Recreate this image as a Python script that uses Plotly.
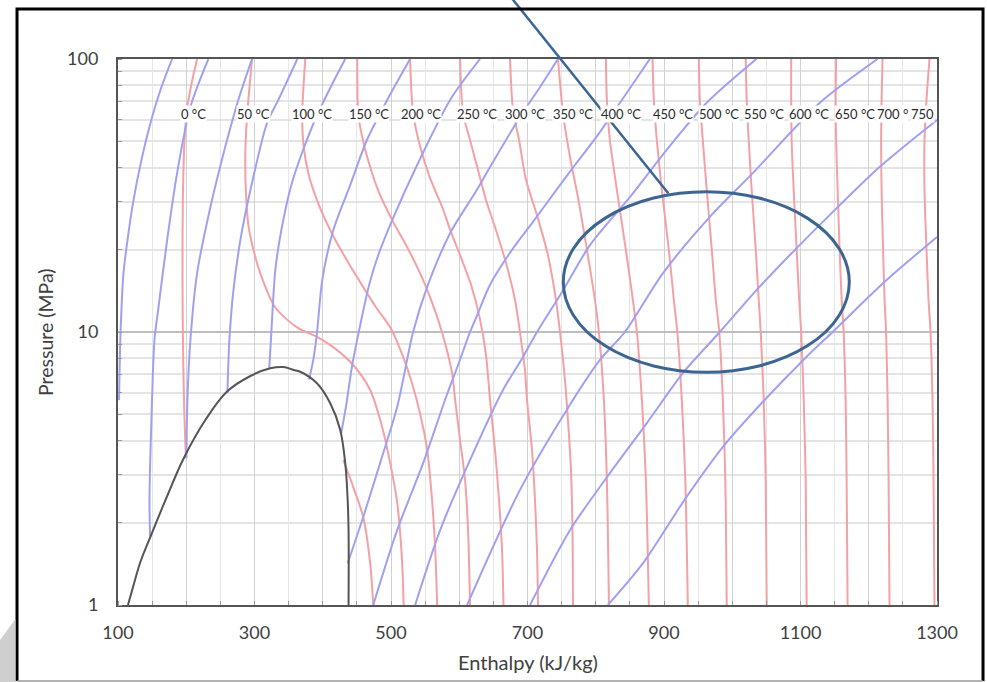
import math
import plotly.graph_objects as go

# ---------------- data ----------------
# Isotherms: enthalpy h [kJ/kg] and pressure P [MPa]
t0_liq_h = [216, 209, 202, 197.5, 195, 194.5, 195.5, 197.5, 199.5]
t0_liq_p = [100, 84, 68, 50.5, 30.4, 15.5, 7.9, 4.76, 3.45]
t0_vap_h = [430, 444.6, 459.3, 469.5, 474]
t0_vap_p = [3.40, 2.71, 2.10, 1.42, 1.0]
t50_h = [296.4, 289.5, 286.6, 287.3, 291, 296.8, 308.5, 330.5, 362.2, 391.5, 415.4, 444.6, 469.5, 487, 498.8, 508.6, 515.9, 518.5]
t50_p = [100, 63.4, 46.4, 33.1, 24.7, 20.8, 16.4, 12.3, 10.4, 9.6, 8.8, 7.57, 6.13, 4.49, 3.31, 2.42, 1.50, 1.0]
t100_h = [374.4, 370, 371.5, 378.8, 391.5, 411, 435.4, 459.3, 478.3, 498.8, 517.8, 532.4, 541.3, 552.5, 559.8, 564.6, 567.6]
t100_p = [100, 63.4, 49.2, 38.2, 30.4, 23.6, 18.3, 14.6, 12.3, 10.4, 8.1, 6.29, 5.18, 3.79, 2.49, 1.63, 1.0]
t150_h = [450.5, 452, 457.8, 469.5, 482.7, 501.7, 522.2, 542.7, 557.3, 569, 580.8, 589.5, 594, 601.2, 608.5, 612.9, 615.8]
t150_p = [100, 63.4, 51.8, 40.2, 32.3, 25.7, 20.8, 16.4, 13.4, 11.1, 8.8, 7.07, 5.63, 4.02, 2.87, 1.88, 1.0]
t200_h = [528, 532.4, 544.1, 557.3, 574.9, 588, 604.1, 617.3, 630.5, 639.3, 645.1, 652.4, 658.3, 662.7, 664.8]
t200_p = [100, 63.4, 46.4, 36.6, 28.7, 23.2, 18.3, 14.9, 11.1, 8.2, 5.63, 3.70, 2.42, 1.59, 1.0]
t250_h = [601.2, 605.6, 615.8, 627.5, 639.3, 653.9, 668.5, 681.7, 690.5, 696.3, 699.3, 706.6, 711, 713.9, 715.4]
t250_p = [100, 63.4, 50.5, 39.2, 30.4, 23.6, 17.9, 13.1, 9.35, 7.26, 5.63, 3.70, 2.42, 1.59, 1.0]
t300_h = [674.4, 678.8, 687.6, 697.8, 713.9, 730, 741.7, 747.6, 754.9, 759.3, 763.7, 765.9, 766.6]
t300_p = [100, 65.1, 50.5, 36.1, 26.8, 19.1, 13.1, 10.0, 6.67, 4.76, 3.12, 1.88, 1.0]
t350_h = [744.7, 752, 762.2, 773.9, 787.1, 798.8, 804.6, 811.9, 816.3, 819.3]
t350_p = [100, 63.4, 43.8, 31.2, 20.0, 13.1, 10.0, 5.63, 2.87, 1.0]
hot_p = [100, 70.8, 50.5, 33.1, 20.0, 13.1, 10.0, 5.63, 2.87, 1.0]
t400_h = [814.9, 816.3, 820.7, 831, 844.1, 854.4, 860.3, 867.6, 873.4, 877.8]
t450_h = [883.2, 885.1, 889.5, 896.8, 907.1, 914.4, 919.5, 926.1, 931.2, 934.9]
t500_h = [951, 952.5, 956.8, 962.7, 970, 975.9, 981, 986.2, 989.8, 991.9]
t550_h = [1019.7, 1021.2, 1024.1, 1028.5, 1034.4, 1038.8, 1041.7, 1046.1, 1049, 1050.5]
t600_h = [1086.3, 1086.3, 1087, 1090, 1094.4, 1098.1, 1101, 1104.7, 1107.6, 1109]
t650_h = [1152.2, 1151.5, 1152.2, 1154.4, 1157.3, 1160.3, 1163.2, 1166.1, 1167.6, 1169]
t700_h = [1220.2, 1218.8, 1218.1, 1218.8, 1221, 1223.2, 1225.4, 1227.6, 1229.1, 1230.4]
t750_h = [1289, 1284.6, 1281.7, 1281.7, 1284.6, 1287.6, 1290.5, 1293.4, 1294.9, 1296.3]

# Isentropes
s1_h = [179.3, 162.2, 147.6, 134.4, 122.7, 113.9, 108, 103.7, 101.5]
s1_p = [100, 77.0, 58.3, 42.7, 30.4, 21.7, 16.4, 9.9, 5.63]
s2_h = [232.4, 206, 186.6, 172, 159.3, 153.4, 149, 146.1, 147.0]
s2_p = [100, 66.7, 38.2, 21.7, 12.3, 9.35, 4.76, 2.42, 1.78]
s3_h = [296.4, 276.3, 259.8, 235.4, 215.9, 206.1, 201.7, 200.2]
s3_p = [100, 70.8, 50.5, 28.7, 16.4, 9.35, 5.63, 3.45]
s4_h = [362.7, 334.9, 318.4, 294, 279.3, 269.1, 263.2, 260.3]
s4_p = [100, 70.8, 58.3, 33.1, 21.7, 14.2, 9.35, 5.98]
s5_h = [432.9, 410.9, 390.5, 368.5, 353.9, 339.3, 330.5, 324.6, 321.7]
s5_p = [100, 78.3, 61.3, 44.5, 34.5, 23.6, 16.9, 9.9, 7.38]
s6_h = [528, 494.4, 464.7, 440.2, 415.4, 399.3, 391.5, 386.1, 380]
s6_p = [100, 70.8, 50.5, 34.5, 23.6, 15.5, 9.9, 7.9, 6.7]
s7_h = [630.5, 586.6, 538.3, 503.2, 481.2, 468, 454.9, 443.2, 434.4, 427.1]
s7_p = [100, 70.8, 40.9, 26.2, 19.1, 14.9, 10.6, 7.57, 5.40, 4.27]
s8_h = [744.7, 718.4, 689, 645.1, 625.7, 586.6, 552.9, 532.4, 509, 484, 459.3, 436.5]
s8_p = [100, 79.0, 61.3, 40.2, 33.1, 23.0, 14.6, 10.0, 5.31, 3.31, 2.10, 1.42]
s9_h = [879.3, 838.3, 803.2, 769.5, 740.2, 708, 677.3, 645.1, 626.1, 615.8, 598.3, 580.7, 547.1, 509, 474]
s9_p = [100, 70.8, 52.7, 40.9, 32.6, 25.3, 20.0, 14.9, 11.5, 10.0, 7.57, 5.78, 3.31, 1.88, 1.0]
s10_h = [1035.4, 962.2, 903.7, 850, 791.5, 752, 713.9, 693.4, 664.1, 615.9, 572, 535.4]
s10_p = [100, 69.0, 46.4, 31.2, 20.8, 14.2, 10.0, 8.1, 6.13, 3.40, 1.88, 1.0]
s11_h = [1212.9, 1128, 1030, 967.1, 898.3, 842.7, 806.1, 759.3, 689, 611.5]
s11_p = [100, 69.0, 38.2, 26.4, 16.4, 10.0, 7.9, 5.27, 2.64, 1.0]
s12_h = [1300, 1215.8, 1142.7, 1084.1, 1032.9, 981.7, 927.6, 874.9, 820.7, 762.2, 703.7]
s12_p = [59.8, 40.2, 26.8, 19.1, 14.0, 10.0, 7.07, 4.64, 3.04, 1.88, 1.0]
s13_h = [1300, 1226.1, 1171.9, 1147.1, 1108.6, 1044.6, 986.1, 933, 869, 817.8]
s13_p = [22.3, 15.5, 11.5, 10.0, 8.1, 5.54, 3.79, 2.49, 1.42, 1.0]

# Saturation dome
dome_h = [114.6, 122.7, 132.9, 147.6, 169.5, 196.3, 228, 259.8, 294, 323.2, 342.2, 357.3,
          367, 391.5, 411, 425.6, 433, 436.3, 437.8, 437.8]
dome_p = [1.0, 1.18, 1.44, 1.78, 2.42, 3.45, 4.76, 6.05, 6.90, 7.36, 7.44, 7.26,
          7.15, 6.49, 5.48, 4.38, 3.30, 2.49, 1.88, 1.0]

# Isotherm labels (as visible on the chart; the last two are clipped together as "700 °750")
label_text = ["0 °C", "50 °C", "100 °C", "150 °C", "200 °C", "250 °C", "300 °C", "350 °C",
              "400 °C", "450 °C", "500 °C", "550 °C", "600 °C", "650 °C"]
label_h = [210.5, 298.3, 384.6, 467.3, 543.7, 626.1, 695.6, 766.6, 836.8, 912.9, 981,
           1046.8, 1112.7, 1179.3]
label_p = 63
edge_label_text = ["700 °", "750"]
edge_label_h = [1258.3, 1297]

x_tickvals = [100, 200, 300, 400, 500, 600, 700, 800, 900, 1000, 1100, 1200, 1300]
x_ticktext = ["100", "", "300", "", "500", "", "700", "", "900", "", "1100", "", "1300"]
y_tickvals = [1, 10, 100]
y_ticktext = ["1", "10", "100"]

# ---------------- figure ----------------
RED = "#f5a0a4"
BLUE = "#a0a0f2"
FONT = "Lato"

isotherms = [
    (t0_liq_h, t0_liq_p), (t0_vap_h, t0_vap_p), (t50_h, t50_p), (t100_h, t100_p),
    (t150_h, t150_p), (t200_h, t200_p), (t250_h, t250_p), (t300_h, t300_p),
    (t350_h, t350_p), (t400_h, hot_p), (t450_h, hot_p), (t500_h, hot_p),
    (t550_h, hot_p), (t600_h, hot_p), (t650_h, hot_p), (t700_h, hot_p), (t750_h, hot_p),
]
isentropes = [
    (s1_h, s1_p), (s2_h, s2_p), (s3_h, s3_p), (s4_h, s4_p), (s5_h, s5_p), (s6_h, s6_p),
    (s7_h, s7_p), (s8_h, s8_p), (s9_h, s9_p), (s10_h, s10_p), (s11_h, s11_p),
    (s12_h, s12_p), (s13_h, s13_p),
]

fig = go.Figure()
for hx, py in isotherms:
    fig.add_trace(go.Scatter(x=hx, y=py, mode="lines",
                             line=dict(color=RED, width=2, shape="spline", smoothing=0.8),
                             hoverinfo="skip", showlegend=False))
for hx, py in isentropes:
    fig.add_trace(go.Scatter(x=hx, y=py, mode="lines",
                             line=dict(color=BLUE, width=2, shape="spline", smoothing=0.8),
                             hoverinfo="skip", showlegend=False))
fig.add_trace(go.Scatter(x=dome_h, y=dome_p, mode="lines",
                         line=dict(color="#555555", width=2, shape="spline", smoothing=1.0),
                         hoverinfo="skip", showlegend=False))

label_y = math.log10(label_p)
annotations = []
for t, hx in zip(label_text, label_h):
    annotations.append(dict(x=hx, y=label_y, xref="x", yref="y",
                            text=t, showarrow=False, bgcolor="white", borderpad=0,
                            font=dict(family=FONT, size=13, color="#2a2a2a")))
for t, hx in zip(edge_label_text, edge_label_h):
    annotations.append(dict(x=hx, y=label_y, xref="x", yref="y",
                            text=t, showarrow=False, bgcolor="white", borderpad=0,
                            xanchor="right",
                            font=dict(family=FONT, size=13, color="#2a2a2a")))
annotations.append(dict(x=0.5, y=-0.1044, xref="paper", yref="paper", text="Enthalpy (kJ/kg)",
                        showarrow=False, xanchor="center", yanchor="middle",
                        font=dict(family=FONT, size=20, color="#404040")))
annotations.append(dict(x=-0.0891, y=0.5, xref="paper", yref="paper", text="Pressure (MPa)",
                        showarrow=False, textangle=-90, xanchor="center", yanchor="middle",
                        font=dict(family=FONT, size=19.5, color="#404040")))

ACC = "#3c6591"
shapes = [
    dict(type="circle", xref="paper", yref="paper", x0=0.5437, x1=0.8929, y0=0.4262, y1=0.757,
         line=dict(color=ACC, width=3)),
    dict(type="line", xref="paper", yref="paper", x0=0.4747, y0=1.1227, x1=0.6719, y1=0.754,
         line=dict(color=ACC, width=2.5)),
    # outer frame of the slide picture
    dict(type="path", xref="paper", yref="paper",
         path="M -0.1233 -0.1392 L -0.1233 1.0916 L 1.0562 1.0916 L 1.0562 -0.1392",
         line=dict(color="black", width=3)),
    dict(type="line", xref="paper", yref="paper", x0=-0.1233, y0=-0.1392, x1=1.0562, y1=-0.1392,
         line=dict(color="#9a9a9a", width=1.5)),
    dict(type="path", xref="paper", yref="paper",
         path="M -0.1441 -0.0641 L -0.1253 -0.0256 L -0.1253 -0.1410 L -0.1441 -0.1410 Z",
         fillcolor="#cfcfcf", line=dict(width=0)),
]

fig.update_layout(
    width=987, height=682, autosize=False,
    margin=dict(l=118, r=50, t=59, b=77, pad=0),
    paper_bgcolor="white", plot_bgcolor="white",
    font=dict(family=FONT, color="#404040"),
    annotations=annotations, shapes=shapes,
    showlegend=False,
)
fig.update_xaxes(
    range=[100, 1300], tickmode="array", tickvals=x_tickvals, ticktext=x_ticktext,
    tickfont=dict(family=FONT, size=18, color="#404040"),
    showgrid=True, gridcolor="#d2d2d2", gridwidth=1,
    showline=True, linecolor="#555555", linewidth=2, mirror=True,
    ticks="", ticklabelstandoff=10, zeroline=False,
    minor=dict(dtick=50, showgrid=True, gridcolor="#e6e6e6", ticks="inside", ticklen=4,
               tickcolor="#999999"),
)
fig.update_yaxes(
    type="log", range=[0, 2], tickmode="array", tickvals=y_tickvals, ticktext=y_ticktext,
    tickfont=dict(family=FONT, size=18, color="#404040"),
    showgrid=True, gridcolor="#bdbdbd", gridwidth=1.5,
    showline=True, linecolor="#555555", linewidth=2, mirror=True,
    ticks="", ticklabelstandoff=14, zeroline=False,
    minor=dict(dtick="D1", showgrid=True, gridcolor="#e4e4e4", ticks="inside", ticklen=4,
               tickcolor="#999999"),
)

fig.write_html("out.html", config={"displayModeBar": False},
               post_script="document.body.style.margin='0';document.body.style.overflow='hidden';")
